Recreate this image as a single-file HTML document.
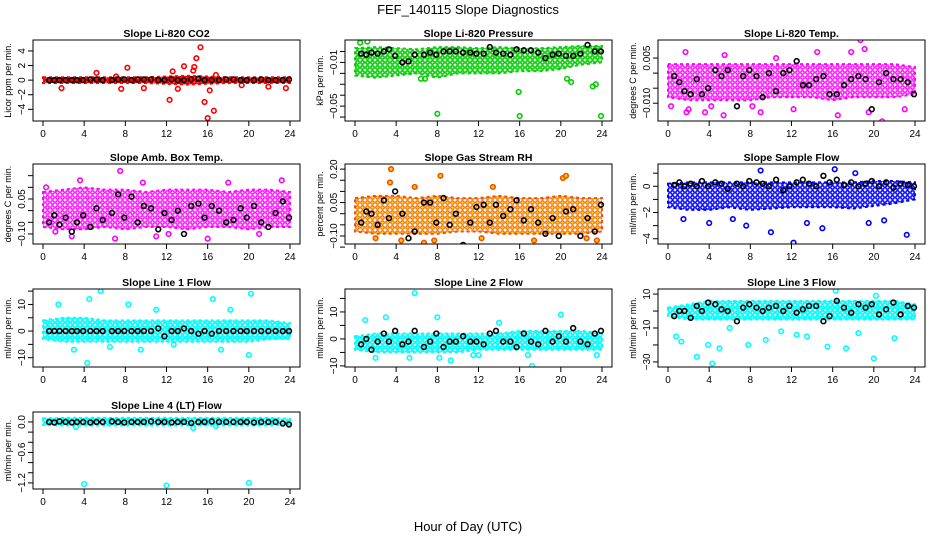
<!DOCTYPE html>
<html><head><meta charset="utf-8">
<style>
html,body{margin:0;padding:0;background:#fff;}
svg{display:block;font-family:"Liberation Sans",sans-serif;}
</style></head>
<body>
<svg id="chart" width="936" height="540" viewBox="0 0 936 540">
<defs>
<pattern id="p-red" width="4" height="4" patternUnits="userSpaceOnUse"><rect width="4" height="4" fill="#ff0000"/><circle cx="2" cy="2" r="0.8" fill="#fff" opacity="0.5"/></pattern>
<pattern id="p-green" width="5" height="5" patternUnits="userSpaceOnUse"><rect width="5" height="5" fill="#fff"/><circle cx="2.5" cy="2.5" r="1.7" fill="none" stroke="#00d000" stroke-width="1.6"/></pattern>
<pattern id="p-magenta" width="5" height="5" patternUnits="userSpaceOnUse"><rect width="5" height="5" fill="#fff"/><circle cx="2.5" cy="2.5" r="1.7" fill="none" stroke="#ff00ff" stroke-width="1.4"/></pattern>
<pattern id="p-orange" width="5" height="5" patternUnits="userSpaceOnUse"><rect width="5" height="5" fill="#fff"/><circle cx="2.5" cy="2.5" r="1.8" fill="#ffe000" stroke="#f05000" stroke-width="1"/></pattern>
<pattern id="p-blue" width="5" height="5" patternUnits="userSpaceOnUse"><rect width="5" height="5" fill="#fff"/><circle cx="2.5" cy="2.5" r="1.7" fill="none" stroke="#0000ff" stroke-width="1.5"/></pattern>
<pattern id="p-cyan" width="5" height="5" patternUnits="userSpaceOnUse"><rect width="5" height="5" fill="#fff"/><circle cx="2.5" cy="2.5" r="1.7" fill="none" stroke="#00ffff" stroke-width="1.8"/></pattern>
</defs>
<text x="468" y="14" text-anchor="middle" font-size="13">FEF_140115  Slope Diagnostics</text>
<text x="468" y="531" text-anchor="middle" font-size="13">Hour of Day (UTC)</text>
</svg>
<script>
const panelTitles = ["Slope Li-820 CO2","Slope Li-820 Pressure","Slope Li-820 Temp.","Slope Amb. Box Temp.","Slope Gas Stream RH","Slope Sample Flow","Slope Line 1 Flow","Slope Line 2 Flow","Slope Line 3 Flow","Slope Line 4 (LT) Flow"];
const yLabels = ["Licor ppm per min.","kPa per min.","degrees C per min.","degrees C per min.","percent per min.","ml/min per min.","ml/min per min.","ml/min per min.","ml/min per min.","ml/min per min."];
const yMax = [5.5,0.0105,0.011,0.20,0.223,1.7,15.8,18.5,13,0.196];
const yMin = [-5.6,-0.0636,-0.0159,-0.143,-0.136,-4.4,-13.5,-10.4,-33,-1.32];
const yTicks = [[-4,-2,0,2,4],[-0.06,-0.05,-0.04,-0.03,-0.02,-0.01,0],[-0.010,-0.005,0,0.005],[-0.10,-0.05,0,0.05,0.10,0.15],[-0.15,-0.10,-0.05,0,0.05,0.10,0.15,0.20],[-4,-3,-2,-1,0,1],[-10,-5,0,5,10,15],[-10,-5,0,5,10,15],[-30,-20,-10,0,10],[-1.2,-1.0,-0.8,-0.6,-0.4,-0.2,0]];
const yTickLabels = [["−4","−2","0","2","4"],["","−0.05","","","","−0.01",""],["−0.010","","","0.005"],["−0.10","","","0.05","",""],["","−0.10","","","0.05","","","0.20"],["−4","","−2","","0",""],["−10","","0","","10",""],["−10","","0","","10",""],["−30","","−10","","10"],["−1.2","","","−0.6","","","0.0"]];
const xTicks = [0,4,8,12,16,20,24];
const bandHours = [0,2,4,6,8,10,12,14,16,18,20,22,24];
const bandHi = [[0.4,0.4,0.4,0.4,0.4,0.4,0.5,0.6,0.5,0.4,0.4,0.4,0.4],[0.003,0.004,0.003,0.002,0.004,0.004,0.003,0.004,0.003,0.003,0.004,0.005,0.005],[0.003,0.003,0.003,0.003,0.003,0.003,0.003,0.003,0.003,0.003,0.003,0.003,0.002],[0.08,0.09,0.10,0.09,0.09,0.08,0.09,0.09,0.09,0.08,0.09,0.09,0.08],[0.07,0.08,0.08,0.07,0.08,0.07,0.07,0.08,0.07,0.07,0.08,0.07,0.07],[0.2,0.3,0.3,0.3,0.3,0.3,0.3,0.3,0.3,0.3,0.4,0.4,0.3],[4,5,5,4,4,4,4,4,4,4,4,4,3],[1,2,2,2,2,2,2,2,3,3,3,3,2],[2,4,6,6,6,6,6,6,6,6,6,6,4],[0.07,0.08,0.08,0.08,0.08,0.08,0.08,0.08,0.08,0.08,0.08,0.08,0.06]];
const bandLo = [[-0.4,-0.4,-0.4,-0.4,-0.4,-0.4,-0.5,-0.6,-0.5,-0.4,-0.4,-0.4,-0.4],[-0.022,-0.024,-0.022,-0.020,-0.024,-0.020,-0.020,-0.020,-0.018,-0.018,-0.016,-0.012,-0.010],[-0.008,-0.009,-0.009,-0.009,-0.009,-0.008,-0.008,-0.008,-0.009,-0.008,-0.008,-0.008,-0.007],[-0.07,-0.08,-0.08,-0.07,-0.08,-0.07,-0.07,-0.08,-0.07,-0.07,-0.08,-0.07,-0.07],[-0.08,-0.09,-0.09,-0.09,-0.09,-0.08,-0.08,-0.09,-0.09,-0.09,-0.09,-0.09,-0.08],[-1.6,-1.8,-1.8,-1.6,-1.8,-1.7,-1.6,-1.6,-1.6,-1.7,-1.5,-1.3,-1.0],[-3,-4,-4,-4,-4,-4,-4,-4,-4,-4,-4,-3,-3],[-4,-5,-5,-5,-5,-5,-4,-4,-4,-4,-4,-4,-4],[-3,-5,-5,-5,-5,-5,-5,-5,-5,-5,-5,-5,-5],[-0.06,-0.07,-0.07,-0.07,-0.07,-0.07,-0.07,-0.07,-0.07,-0.07,-0.07,-0.07,-0.06]];
const outX = [[1.8,5.2,7.6,8.2,9.8,12.3,12.6,13.1,13.7,14.6,14.7,14.9,15.3,15.7,16,16.2,16.6,16.8,19.3,21.9,23.6,7.1],[0.5,1.2,8,16,23.9,15.9,23.1,23.4,6.8,6.4,20.6,21],[0.3,1.7,1.8,2,3.6,4.2,5.4,5.5,8.2,9,10.5,12.2,14.5,16.5,17.8,18.7,19.5,20.8,19.1,23],[3.6,7.5,11,12.2,2.8,18,21,23.2,7,9.7,16,0.3,1.2],[3.5,3.4,8.3,20.2,20.5,13.4,5.8,4.5,6.7,2,17.4,22.5,23.5,12.3,7.7],[12.2,7.6,10,15,23.2,19.5,4,1.5,16.2,18.2,9,21,13.5,6.3],[5.6,20.2,4.5,16.5,1.5,8.3,4.3,20,3,17.3,6.5,12.7,9.5,18.2,11],[5.8,3,1,8,20,17.2,5.3,8.2,9.3,2,11.5,16.8,23.5,14,12],[4.3,2.8,20,0.8,1.3,3.9,5,7.8,15.5,17.3,9.5,11,12.5,16.3,20.2,22,18.5,6,13.5],[4,12,20,3.2,14.6,16.8]];
const outY = [[-1.1,1,-1.2,1.7,-1.1,-2.7,1.2,-1.2,1.9,1.3,1.8,3,4.5,-3,-5.2,-1.4,-4.2,0.7,-0.7,-0.9,-1.1,0.5],[0.008,0.009,-0.057,-0.059,-0.059,-0.037,-0.032,-0.030,-0.025,-0.025,-0.025,-0.028],[-0.011,0.007,-0.013,-0.012,-0.013,-0.011,-0.014,0.006,-0.011,-0.013,0.005,-0.012,0.007,-0.014,0.007,0.011,-0.013,-0.016,0.008,-0.012],[0.13,0.17,-0.11,-0.10,-0.11,0.12,-0.10,0.13,-0.12,0.12,-0.12,0.10,-0.09],[0.20,0.14,0.17,0.16,0.17,0.12,0.12,-0.12,-0.13,-0.11,-0.12,-0.11,-0.12,-0.11,-0.12],[-4.3,-3,-3.5,-3.2,-3.7,-2.8,-2.8,-2.5,1.3,1.0,1.2,-2.6,-2.8,-2.5],[15,14,12,12,10,10,-12,-9,-7,-7,-6,-5,-7,8,8],[17,8,7,8,9,-10,-7,-7,-8,-7,-6,-6,-6,6,-6],[-31,-27,-28,-15,-18,-20,-22,-20,-21,-22,-17,-12,-14,12,9,-16,-13,-10,-15],[-1.22,-1.25,-1.2,-0.1,-0.12,-0.08]];
const blackHours = [0.6,1.1,1.6,2.2,2.8,3.3,3.9,4.6,5.2,5.8,6.7,7.3,7.9,8.6,9.2,9.8,10.5,11.2,11.8,12.5,13.1,13.7,14.4,15.1,15.7,16.4,17.1,17.8,18.5,19.2,19.8,20.5,21.2,21.9,22.6,23.3,23.9];
const blackY = [
[0,0,0,0,0,0,0,0.1,0.1,0,0,0.1,0.1,0,0.1,0.1,0.1,0,0,0.1,0,0,0.1,0.2,0,0,0,0.1,0.1,0,0,0,0.1,0,0,0,0.1],
[-0.002,-0.003,-0.001,-0.002,0.000,0.002,-0.004,-0.010,-0.009,-0.003,-0.003,-0.001,-0.003,0.000,0.000,0.000,-0.001,-0.001,-0.002,-0.002,0.004,-0.001,-0.002,-0.003,0.002,0.001,0.001,-0.001,-0.006,-0.003,-0.002,-0.004,-0.004,-0.002,0.006,0.000,0.000],
[-0.001,-0.003,-0.006,-0.007,-0.002,-0.007,-0.005,0.001,-0.001,0.001,-0.011,-0.001,0.001,-0.001,-0.008,0,-0.006,0.0,0.001,0.004,-0.004,-0.004,-0.002,-0.001,-0.007,-0.007,-0.004,-0.002,-0.001,-0.002,-0.012,-0.003,0.0,-0.002,-0.002,-0.003,-0.007],
[-0.05,-0.02,-0.06,-0.03,-0.09,-0.05,-0.02,-0.07,0.01,-0.04,-0.01,0.07,-0.03,0.06,-0.05,0.02,0.01,-0.08,-0.01,-0.04,0.00,-0.10,0.02,0.03,-0.03,0.02,0.00,-0.05,-0.04,0.01,-0.03,0.02,-0.05,-0.07,-0.01,0.04,-0.03],
[-0.04,0.01,0.0,-0.05,0.06,-0.02,0.10,0.0,-0.11,-0.08,0.05,0.05,-0.04,0.07,-0.05,0.0,-0.14,-0.04,0.03,0.04,-0.04,0.04,-0.01,0.02,0.06,-0.03,0.02,-0.04,-0.09,-0.02,-0.10,0.01,0.02,-0.10,-0.02,-0.08,0.04],
[0.1,0.3,0.0,0.2,0.0,0.4,0.0,0.3,0.2,-0.2,0.2,0.0,0.4,0.3,0.2,0.0,0.5,-0.3,0.0,0.3,0.5,0.2,0.0,0.8,0.3,0.5,0.1,0.3,0.0,0.2,0.4,0.0,0.3,-0.1,0.2,0.1,0.0],
[0,0,0,0,0,0,0,0,0,0,0,0,0,0,0,0,0,1,-2,0,0,1,0,-1,0,-1,0,0,0,0,0,0,0,0,0,0,0],
[-2,0,-4,-1,2,-1,3,-2,-1,3,-3,-1,2,-3,-1,-1,1,-1,-1,-2,2,3,-1,-1,-3,2,-1,-2,3,-1,1,-1,4,-1,-2,2,3],
[-3,0,0,-4,3,0,5,4,1,0,-6,2,4,2,0,2,3,0,3,-1,1,3,3,-6,-3,6,2,-1,4,2,4,-2,1,5,-2,3,2],
[0,-0.01,0.01,0,-0.01,0,0,-0.01,0,0,0.01,0,-0.01,0,0,0,0.01,0,0,-0.01,0,0,-0.02,0,0,0.01,0,0,0,0,0,-0.01,0,0,0,-0.03,-0.05]];
const colors = ["#ff0000","#00d000","#ff00ff","#ff00ff","#f05000","#0000ff","#00ffff","#00ffff","#00ffff","#00ffff"];
const patterns = ["p-red","p-green","p-magenta","p-magenta","p-orange","p-blue","p-cyan","p-cyan","p-cyan","p-cyan"];

const NS = "http://www.w3.org/2000/svg";
const svg = document.getElementById("chart");
const colX0 = [43,355,668];
const rowTop = [40,164,289,412];
const rowBot = [121,244,367,489];
const hourPx = 247/24;
function mk(tag, attrs, parent){const e=document.createElementNS(NS,tag);for(const k in attrs)e.setAttribute(k,attrs[k]);(parent||svg).appendChild(e);return e;}

panelTitles.forEach((title,i)=>{
  const col=i%3,row=Math.floor(i/3);
  const x0=colX0[col],top=rowTop[row],bot=rowBot[row];
  const left=x0-10,right=x0+257;
  const xs=h=>x0+h*hourPx;
  const ys=v=>bot-(v-yMin[i])/(yMax[i]-yMin[i])*(bot-top);
  const g=mk("g",{});
  
  
  const clip=mk("clipPath",{id:"clip"+i},g);
  mk("rect",{x:left,y:top,width:right-left,height:bot-top},clip);
  const t=mk("text",{x:(left+right)/2,y:top-3,"text-anchor":"middle","font-size":"10.5","font-weight":"bold"},g);
  t.textContent=title;
  
  
  const yl=mk("text",{x:0,y:0,"text-anchor":"middle","font-size":"9",transform:`translate(${left-22},${(top+bot)/2}) rotate(-90)`},g);
  yl.textContent=yLabels[i];
  
  
  const plot=mk("g",{"clip-path":`url(#clip${i})`},g);
  let d="";
  bandHours.forEach((h,k)=>{d+=(k?"L":"M")+xs(h)+","+ys(bandHi[i][k]);});
  for(let k=bandHours.length-1;k>=0;k--)d+="L"+xs(bandHours[k])+","+ys(bandLo[i][k]);
  const band=mk("path",{d:d+"Z",fill:`url(#${patterns[i]})`,stroke:colors[i],"stroke-width":"2","stroke-dasharray":"3 3"},plot);
  
  
  outX[i].forEach((h,k)=>{
    const c=mk("circle",{cx:xs(h),cy:ys(outY[i][k]),r:2.3,fill:i==4?"#ffd000":"none",stroke:colors[i],"stroke-width":"1.6"},plot);
    
    
  });
  blackHours.forEach((h,k)=>{
    const c=mk("circle",{cx:xs(h),cy:ys(blackY[i][k]),r:2.4,fill:"none",stroke:"#000","stroke-width":"1.6"},plot);
    
    
  });
  const box=mk("rect",{x:left,y:top,width:right-left,height:bot-top,fill:"none",stroke:"#000","stroke-width":"1"},g);
  
  
  xTicks.forEach(h=>{
    mk("line",{x1:xs(h),x2:xs(h),y1:bot,y2:bot+5,stroke:"#000"},g);
    const tl=mk("text",{x:xs(h),y:bot+16,"text-anchor":"middle","font-size":"10"},g);
    tl.textContent=h;
    
    
  });
  yTicks[i].forEach((v,k)=>{
    const y=ys(v);
    mk("line",{x1:left-5,x2:left,y1:y,y2:y,stroke:"#000"},g);
    const lab=yTickLabels[i][k];
    if(lab){
      const tl=mk("text",{x:0,y:0,"text-anchor":"middle","font-size":"10",transform:`translate(${left-8},${y}) rotate(-90)`},g);
      tl.textContent=lab;
      
      
    }
  });
});
</script>
</body></html>
